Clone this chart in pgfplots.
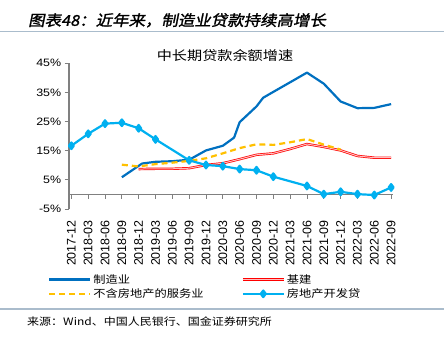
\documentclass[border=0pt]{standalone}
\usepackage{pgfplots}
\pgfplotsset{compat=1.18}
\usepackage{fontspec}
\setmainfont{Liberation Sans}
\newfontfamily\cjk[FakeStretch=1.17]{Noto Sans CJK SC}
\newfontfamily\cjktitle[FakeStretch=1.1,FakeSlant=0.2,FakeBold=1.5]{Noto Sans CJK SC}
\newfontfamily\ylabfont[FakeStretch=1.16]{Liberation Sans}
\definecolor{mfg}{RGB}{0,112,192}
\definecolor{re}{RGB}{0,176,240}
\definecolor{svc}{RGB}{255,192,0}
\definecolor{infra}{RGB}{255,0,0}
\definecolor{infrain}{RGB}{255,190,190}
\definecolor{rulec}{RGB}{170,188,204}
\definecolor{axgray}{RGB}{128,128,128}
\begin{document}
\begin{tikzpicture}
\useasboundingbox (0,0) rectangle (444bp,338bp);
\begin{axis}[
  at={(69bp,129bp)}, anchor=south west,
  scale only axis, width=323.8bp, height=145.7bp,
  xmin=-0.14, xmax=19.1, ymin=-5, ymax=45,
  axis x line=middle, axis y line=left,
  axis line style={-, draw=axgray, line width=1.2bp},
  tick align=outside,
  major tick length=4.3bp,
  tick style={draw=axgray, line width=0.9bp},
  xtick={0,...,19},
  xticklabels={2017-12,2018-03,2018-06,2018-09,2018-12,2019-03,2019-06,2019-09,2019-12,2020-03,2020-06,2020-09,2020-12,2021-03,2021-06,2021-09,2021-12,2022-03,2022-06,2022-09},
  xticklabel style={rotate=90, anchor=east, font=\fontsize{12.5}{14}\selectfont},
  xticklabel shift=18bp,
  ytick={-5,5,15,25,35,45},
  yticklabels={-5\%,5\%,15\%,25\%,35\%,45\%},
  yticklabel style={font=\ylabfont\fontsize{10.75}{12}\selectfont},
  legend columns=2,
  legend cell align=left,
  legend style={at={(-0.074,-0.42)}, anchor=north west, draw=none, fill=none,
    font=\cjk\fontsize{10.5}{12}\selectfont,
    /tikz/every even column/.append style={column sep=36bp}},
  legend image code/.code={\draw[mark repeat=2,mark phase=2,#1] plot coordinates {(0bp,0bp) (20.5bp,0bp) (41bp,0bp)};},
  line join=round,
]
\addplot[color=mfg, line width=2.2bp] coordinates {
(3,5.9) (4.2,10.6) (5,11.2) (6,11.4) (7,11.9) (8,15.1) (9,16.7) (9.67,19.5) (10,24.8) (11,30.2) (11.4,33.2) (14,41.8) (15,38.0) (16,31.9) (17,29.6) (18,29.7) (19,31.0)
};
\addlegendentry{制造业}
\addplot[draw=infra, double=infrain, double distance=1bp, line width=0.7bp] coordinates {
(4,8.7) (5,8.8) (6,8.8) (7,9.0) (8,10.1) (9,10.7) (10,12.1) (11,13.6) (12,14.1) (13,15.6) (14,17.3) (15,16.3) (16,15.1) (17,13.2) (18,12.6) (19,12.6)
};
\addlegendentry{基建}
\addplot[color=svc, line width=2.2bp, dash pattern=on 6bp off 4bp] coordinates {
(3,10.2) (4,9.6) (5,10.4) (6,10.9) (7,11.5) (8,12.4) (9,14.1) (10,15.9) (11,17.2) (12,17.0) (13,17.9) (14,19.0) (15,17.1) (16,15.4)
};
\addlegendentry{不含房地产的服务业}
\addplot[color=re, line width=2.2bp, mark=diamond*, mark size=3.3bp, mark options={solid}] coordinates {
(0,16.7) (1,20.8) (2,24.3) (3,24.6) (4,22.7) (5,18.9) (7,11.7) (8,10.1) (9,9.7) (10,8.7) (11,8.3) (12,6.1) (14,2.9) (15,0.1) (16,0.9) (17,0.1) (18,-0.2) (19,2.4)
};
\addlegendentry{房地产开发贷}
\end{axis}
\fill[rulec] (0,305.5bp) rectangle (444bp,307bp);
\fill[rulec] (0,28.2bp) rectangle (444bp,29.7bp);
\node[anchor=west, inner sep=0] at (28bp,317.7bp) {\cjktitle\fontsize{15}{17}\selectfont 图表48：近年来，制造业贷款持续高增长};
\node[inner sep=0] at (225bp,282bp) {\cjk\fontsize{13}{15}\selectfont 中长期贷款余额增速};
\node[anchor=west, inner sep=0] at (27bp,16bp) {\cjk\fontsize{10.3}{12}\selectfont 来源：Wind、中国人民银行、国金证券研究所};
\end{tikzpicture}
\end{document}
